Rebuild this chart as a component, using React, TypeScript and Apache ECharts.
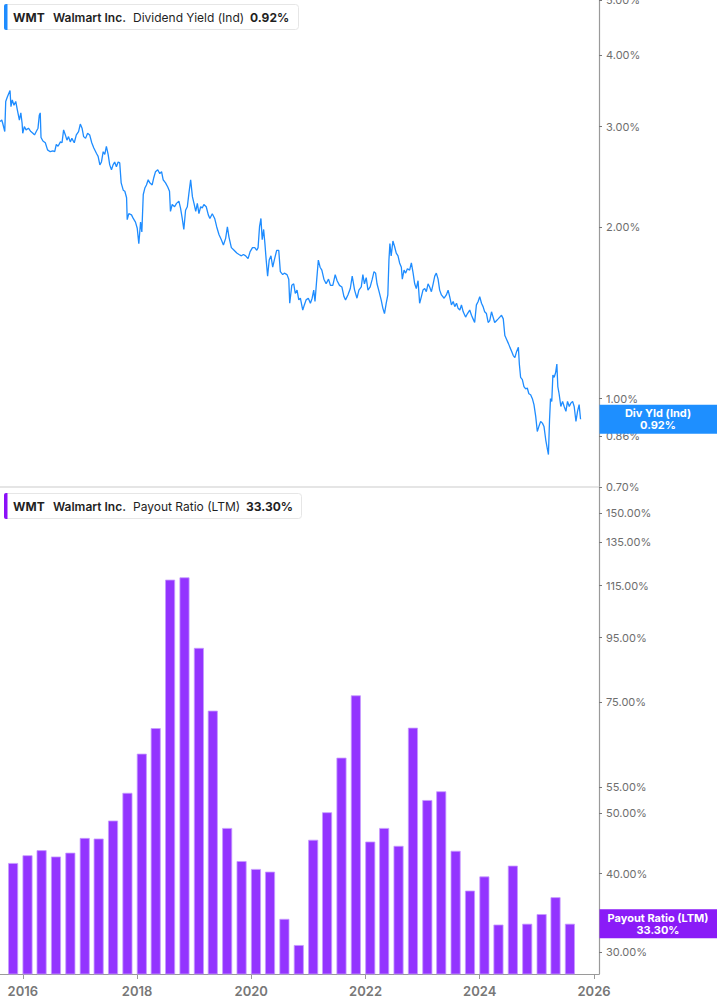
import { useEffect, useRef } from 'react'
import * as echarts from 'echarts'

// Dividend yield (indicated), %
const yieldDates = [
  '2015-09-09', '2015-09-20', '2015-09-26', '2015-10-09', '2015-10-15', '2015-10-25', '2015-11-11', '2015-11-17', '2015-11-25', '2015-12-06', '2015-12-17', '2015-12-27',
  '2016-01-09', '2016-01-18', '2016-01-26', '2016-01-30', '2016-02-09', '2016-02-20', '2016-03-06', '2016-03-21', '2016-04-03', '2016-04-13', '2016-04-24', '2016-05-05', '2016-05-13', '2016-05-19', '2016-05-24', '2016-06-05', '2016-06-20', '2016-07-04', '2016-07-21', '2016-08-07', '2016-08-18', '2016-08-28', '2016-09-08', '2016-09-23', '2016-10-03', '2016-10-13', '2016-10-24', '2016-11-03', '2016-11-13', '2016-11-24', '2016-12-04', '2016-12-19',
  '2017-01-01', '2017-01-15', '2017-01-26', '2017-02-06', '2017-02-16', '2017-02-28', '2017-03-13', '2017-03-26', '2017-04-08', '2017-04-21', '2017-05-08', '2017-05-18', '2017-05-29', '2017-06-08', '2017-06-19', '2017-06-29', '2017-07-09', '2017-07-20', '2017-07-30', '2017-08-10', '2017-08-20', '2017-08-30', '2017-09-10', '2017-09-21', '2017-10-01', '2017-10-10', '2017-10-23', '2017-11-02', '2017-11-13', '2017-11-17', '2017-11-27', '2017-12-14', '2017-12-25',
  '2018-01-08', '2018-01-19', '2018-01-29', '2018-02-09', '2018-02-17', '2018-02-26', '2018-03-08', '2018-03-18', '2018-03-29', '2018-04-08', '2018-04-23', '2018-05-03', '2018-05-14', '2018-05-28', '2018-06-10', '2018-06-21', '2018-07-01', '2018-07-16', '2018-07-30', '2018-08-10', '2018-08-16', '2018-08-27', '2018-09-11', '2018-09-23', '2018-10-08', '2018-10-18', '2018-10-29', '2018-11-08', '2018-11-19', '2018-11-30', '2018-12-10', '2018-12-21',
  '2019-01-01', '2019-01-11', '2019-01-22', '2019-02-01', '2019-02-11', '2019-02-22', '2019-03-04', '2019-03-14', '2019-03-29', '2019-04-11', '2019-04-21', '2019-05-06', '2019-05-21', '2019-06-03', '2019-06-17', '2019-07-02', '2019-07-15', '2019-07-29', '2019-08-09', '2019-08-19', '2019-09-03', '2019-09-20', '2019-10-07', '2019-10-21', '2019-11-05', '2019-11-18', '2019-12-02', '2019-12-17', '2019-12-30',
  '2020-01-14', '2020-01-28', '2020-02-10', '2020-02-18', '2020-02-27', '2020-03-07', '2020-03-15', '2020-03-24', '2020-04-01', '2020-04-09', '2020-04-18', '2020-04-28', '2020-05-09', '2020-05-20', '2020-05-30', '2020-06-14', '2020-06-27', '2020-07-07', '2020-07-22', '2020-08-01', '2020-08-18', '2020-08-29', '2020-09-04', '2020-09-17', '2020-09-29', '2020-10-09', '2020-10-20', '2020-10-31', '2020-11-10', '2020-11-25', '2020-12-05', '2020-12-16', '2020-12-30',
  '2021-01-12', '2021-01-23', '2021-02-02', '2021-02-10', '2021-02-21', '2021-03-03', '2021-03-14', '2021-03-25', '2021-04-07', '2021-04-21', '2021-05-06', '2021-05-18', '2021-06-02', '2021-06-17', '2021-06-29', '2021-07-14', '2021-07-29', '2021-08-11', '2021-08-21', '2021-09-05', '2021-09-20', '2021-10-02', '2021-10-17', '2021-11-01', '2021-11-13', '2021-11-28', '2021-12-08', '2021-12-18', '2021-12-29',
  '2022-01-09', '2022-01-23', '2022-02-05', '2022-02-16', '2022-02-26', '2022-03-07', '2022-03-20', '2022-04-02', '2022-04-13', '2022-04-23', '2022-05-04', '2022-05-14', '2022-05-21', '2022-05-27', '2022-06-04', '2022-06-15', '2022-06-25', '2022-07-06', '2022-07-17', '2022-07-27', '2022-08-07', '2022-08-13', '2022-08-24', '2022-09-03', '2022-09-14', '2022-09-28', '2022-10-09', '2022-10-20', '2022-10-30', '2022-11-09', '2022-11-20', '2022-11-30', '2022-12-11', '2022-12-21',
  '2023-01-01', '2023-01-11', '2023-01-22', '2023-02-01', '2023-02-12', '2023-02-23', '2023-03-05', '2023-03-15', '2023-03-26', '2023-04-05', '2023-04-16', '2023-05-03', '2023-05-17', '2023-05-28', '2023-06-07', '2023-06-18', '2023-06-29', '2023-07-09', '2023-07-20', '2023-07-30', '2023-08-10', '2023-08-20', '2023-08-31', '2023-09-15', '2023-09-27', '2023-10-11', '2023-10-22', '2023-11-01', '2023-11-11', '2023-11-22', '2023-12-03', '2023-12-13', '2023-12-24',
  '2024-01-03', '2024-01-13', '2024-01-24', '2024-02-04', '2024-02-14', '2024-02-25', '2024-03-06', '2024-03-16', '2024-03-27', '2024-04-07', '2024-04-17', '2024-04-28', '2024-05-09', '2024-05-19', '2024-05-30', '2024-06-10', '2024-06-20', '2024-07-01', '2024-07-11', '2024-07-21', '2024-08-01', '2024-08-12', '2024-08-18', '2024-08-26', '2024-09-06', '2024-09-16', '2024-09-27', '2024-10-07', '2024-10-17', '2024-10-28', '2024-11-08', '2024-11-18', '2024-11-29', '2024-12-09', '2024-12-19', '2024-12-30',
  '2025-01-10', '2025-01-20', '2025-01-31', '2025-02-11', '2025-02-17', '2025-02-24', '2025-03-02', '2025-03-10', '2025-03-17', '2025-03-25', '2025-04-03', '2025-04-11', '2025-04-17', '2025-04-25', '2025-05-06', '2025-05-17', '2025-05-27', '2025-06-07', '2025-06-17', '2025-06-28', '2025-07-08', '2025-07-19', '2025-07-29', '2025-08-09', '2025-08-19', '2025-08-29', '2025-09-07'
]

const yieldValues = [
  3.06, 3.08, 3.04, 2.94, 3.32, 3.38, 3.47, 3.25, 3.34, 3.27, 3.32, 3.21,
  3.08, 3.17, 3.04, 2.92, 3.0, 2.96, 2.98, 2.94, 2.92, 2.9, 2.94, 2.98, 3.14, 3.17, 2.87, 2.83, 2.81, 2.73, 2.71, 2.72, 2.71, 2.79, 2.77, 2.82, 2.81, 2.96, 2.9, 2.84, 2.88, 2.82, 2.86, 2.81,
  2.9, 2.94, 3.03, 2.98, 2.88, 2.86, 2.92, 2.9, 2.81, 2.75, 2.69, 2.66, 2.57, 2.6, 2.71, 2.68, 2.77, 2.68, 2.57, 2.52, 2.57, 2.6, 2.55, 2.6, 2.59, 2.39, 2.32, 2.31, 2.25, 2.06, 2.11, 2.1, 2.07,
  2.04, 1.99, 1.87, 2.04, 1.96, 2.28, 2.34, 2.37, 2.42, 2.39, 2.37, 2.44, 2.5, 2.52, 2.48, 2.5, 2.42, 2.39, 2.35, 2.31, 2.13, 2.19, 2.17, 2.2, 2.22, 2.16, 2.07, 1.98, 2.14, 2.17, 2.29, 2.42,
  2.26, 2.2, 2.13, 2.2, 2.11, 2.17, 2.16, 2.19, 2.17, 2.1, 2.07, 2.11, 2.07, 2.0, 1.94, 1.9, 1.86, 1.91, 2.0, 1.92, 1.84, 1.82, 1.8, 1.79, 1.78, 1.79, 1.78, 1.76, 1.81,
  1.84, 1.84, 1.82, 1.84, 2.0, 2.07, 1.9, 1.98, 1.87, 1.75, 1.64, 1.75, 1.78, 1.7, 1.75, 1.82, 1.82, 1.67, 1.65, 1.66, 1.65, 1.62, 1.47, 1.58, 1.59, 1.53, 1.55, 1.49, 1.5, 1.43, 1.46, 1.49, 1.5,
  1.47, 1.5, 1.55, 1.48, 1.62, 1.75, 1.7, 1.68, 1.62, 1.59, 1.62, 1.58, 1.58, 1.65, 1.61, 1.58, 1.57, 1.51, 1.49, 1.52, 1.56, 1.64, 1.55, 1.5, 1.55, 1.57, 1.65, 1.59, 1.63,
  1.55, 1.57, 1.62, 1.67, 1.66, 1.59, 1.54, 1.49, 1.44, 1.41, 1.47, 1.52, 1.75, 1.87, 1.78, 1.89, 1.85, 1.8, 1.78, 1.73, 1.7, 1.62, 1.68, 1.66, 1.69, 1.68, 1.73, 1.66, 1.59, 1.56, 1.61, 1.47, 1.51, 1.55,
  1.56, 1.54, 1.59, 1.57, 1.54, 1.59, 1.64, 1.66, 1.62, 1.55, 1.52, 1.5, 1.52, 1.55, 1.51, 1.46, 1.48, 1.45, 1.47, 1.44, 1.43, 1.46, 1.42, 1.39, 1.41, 1.43, 1.4, 1.38, 1.36, 1.46, 1.48, 1.51, 1.47,
  1.45, 1.42, 1.41, 1.36, 1.37, 1.42, 1.39, 1.36, 1.37, 1.38, 1.39, 1.4, 1.38, 1.29, 1.27, 1.25, 1.23, 1.21, 1.19, 1.18, 1.21, 1.23, 1.15, 1.09, 1.08, 1.05, 1.04, 1.044, 1.02, 1.016, 1.0, 0.976, 0.931, 0.876, 0.894, 0.912,
  0.906, 0.894, 0.847, 0.814, 0.798, 0.918, 1.0, 0.989, 1.1, 1.09, 1.11, 1.15, 1.05, 1.02, 0.969, 0.989, 0.969, 0.95, 0.989, 0.969, 0.982, 0.989, 0.969, 0.912, 0.95, 0.976, 0.92
]

// Payout ratio (LTM), % — one bar per fiscal quarter end
const payoutDates = [
  '2015-10-31', '2016-01-31', '2016-04-30', '2016-07-31', '2016-10-31', '2017-01-31', '2017-04-30', '2017-07-31',
  '2017-10-31', '2018-01-31', '2018-04-30', '2018-07-31', '2018-10-31', '2019-01-31', '2019-04-30', '2019-07-31',
  '2019-10-31', '2020-01-31', '2020-04-30', '2020-07-31', '2020-10-31', '2021-01-31', '2021-04-30', '2021-07-31',
  '2021-10-31', '2022-01-31', '2022-04-30', '2022-07-31', '2022-10-31', '2023-01-31', '2023-04-30', '2023-07-31',
  '2023-10-31', '2024-01-31', '2024-04-30', '2024-07-31', '2024-10-31', '2025-01-31', '2025-04-30', '2025-07-31'
]
const payoutValues = [
  41.6, 42.8, 43.6, 42.6, 43.2, 45.6, 45.5, 48.6,
  53.8, 62.1, 68.2, 117.5, 118.5, 91.5, 72.7, 47.3,
  41.9, 40.7, 40.3, 33.9, 30.8, 45.3, 50.1, 61.2,
  76.9, 45.0, 47.3, 44.3, 68.3, 52.4, 54.1, 43.5,
  37.6, 39.6, 33.2, 41.2, 33.3, 34.5, 36.7, 33.3
]

const yieldTicks = [0.7, 0.86, 1, 2, 3, 4, 5]
const payoutTicks = [30, 40, 50, 55, 75, 95, 115, 135, 150]
const yearTicks = ['2016-01-01', '2018-01-01', '2020-01-01', '2022-01-01', '2024-01-01', '2026-01-01']

const X_MIN = '2015-09-09'
const X_MAX = '2026-01-01'
const BLUE = '#1E8CFF'
const PURPLE = '#9334FF'
const GRID_RIGHT = 118

export default function App() {
  const chartRef = useRef<HTMLDivElement | null>(null)

  useEffect(() => {
    if (!chartRef.current) return
    const chart = echarts.init(chartRef.current, undefined, { renderer: 'svg' })

    const pct = (v: number) => v.toFixed(2) + '%'
    const axisGray = '#9a9a9a'

    const option: echarts.EChartsOption = {
      animation: false,
      backgroundColor: '#ffffff',
      textStyle: { fontFamily: 'Inter, sans-serif' },
      grid: [
        { left: 0, top: 0, right: GRID_RIGHT, height: 487, outerBoundsMode: 'none' } as any,
        { left: 0, top: 487, right: GRID_RIGHT, bottom: 31, outerBoundsMode: 'none' } as any
      ],
      xAxis: [
        {
          type: 'time', gridIndex: 0, min: X_MIN, max: X_MAX,
          axisLine: { show: true, lineStyle: { color: '#dddddd', width: 1.5 } },
          axisTick: { show: false }, axisLabel: { show: false }, splitLine: { show: false }
        },
        {
          type: 'time', gridIndex: 1, min: X_MIN, max: X_MAX,
          axisLine: { show: true, lineStyle: { color: axisGray, width: 1.2 } },
          axisTick: { show: true, length: 5, customValues: yearTicks, lineStyle: { color: axisGray } } as any,
          axisLabel: {
            customValues: yearTicks, formatter: '{yyyy}', color: '#777777',
            fontSize: 13, fontWeight: 600, margin: 10
          } as any,
          splitLine: { show: false }
        }
      ],
      yAxis: [
        {
          type: 'log', gridIndex: 0, position: 'right', min: 0.7, max: 5,
          axisLine: { show: true, lineStyle: { color: axisGray, width: 1.2 } },
          axisTick: { show: true, length: 3, customValues: yieldTicks, lineStyle: { color: '#777' } } as any,
          axisLabel: { customValues: yieldTicks, formatter: pct, color: '#6e6e6e', fontSize: 11, margin: 7 } as any,
          splitLine: { show: false }
        },
        {
          type: 'log', gridIndex: 1, position: 'right', min: 27.7, max: 165,
          axisLine: { show: true, lineStyle: { color: axisGray, width: 1.2 } },
          axisTick: { show: true, length: 3, customValues: payoutTicks, lineStyle: { color: '#777' } } as any,
          axisLabel: { customValues: payoutTicks, formatter: pct, color: '#6e6e6e', fontSize: 11, margin: 7 } as any,
          splitLine: { show: false }
        }
      ],
      series: [
        {
          type: 'line', xAxisIndex: 0, yAxisIndex: 0,
          data: yieldDates.map((d, i) => [d, yieldValues[i]]),
          showSymbol: false, symbol: 'none',
          lineStyle: { color: BLUE, width: 1.3 },
          clip: true
        },
        {
          type: 'bar', xAxisIndex: 1, yAxisIndex: 1,
          data: payoutDates.map((d, i) => [d, payoutValues[i]]),
          barWidth: 10,
          itemStyle: { color: PURPLE, borderColor: '#C79BFF', borderWidth: 0.8 },
          clip: true
        }
      ]
    }

    chart.setOption(option)

    const lastYield = yieldValues[yieldValues.length - 1]
    const lastPayout = payoutValues[payoutValues.length - 1]
    const yTop = chart.convertToPixel({ yAxisIndex: 0 }, lastYield) as number
    const yBot = chart.convertToPixel({ yAxisIndex: 1 }, lastPayout) as number
    const axisX = 717 - GRID_RIGHT

    const txt = (x: number, y: number, text: string, weight: number, fill = '#1f1f1f', size = 12, align = 'left') => ({
      type: 'text', x, y, silent: true, z: 20,
      style: {
        text, fill, align, textAlign: align, verticalAlign: 'middle', textVerticalAlign: 'middle',
        font: `${weight} ${size}px Inter, sans-serif`
      }
    })

    const legendBox = (top: number, width: number, accent: string, label: string, value: string, valueX: number) => ({
      type: 'group', z: 20,
      children: [
        { type: 'rect', shape: { x: 4.5, y: top + 0.5, width, height: 25, r: 3 }, style: { fill: '#fff', stroke: '#e6e6e6', lineWidth: 1 }, z: 20 },
        { type: 'rect', shape: { x: 4, y: top, width: 3.5, height: 26, r: [2, 0, 0, 2] }, style: { fill: accent }, z: 21 },
        txt(13, top + 13, 'WMT', 700),
        txt(53, top + 13, 'Walmart Inc.', 600),
        txt(133, top + 13, label, 400),
        txt(valueX, top + 13, value, 700)
      ]
    })

    const badge = (yc: number, fill: string, l1: string, l2: string) => ({
      type: 'group', z: 30,
      children: [
        { type: 'rect', shape: { x: axisX + 0.5, y: yc - 14.5, width: 717 - axisX, height: 29 }, style: { fill }, z: 30 },
        { ...txt(658, yc - 6, l1, 700, '#ffffff', 11, 'center'), z: 31 },
        { ...txt(658, yc + 6, l2, 700, '#ffffff', 11, 'center'), z: 31 }
      ]
    })

    chart.setOption({
      graphic: [
        legendBox(4, 294, BLUE, 'Dividend Yield (Ind)', pct(lastYield), 250),
        legendBox(493, 297, '#8B10F8', 'Payout Ratio (LTM)', pct(lastPayout), 246),
        badge(yTop, '#1E8FFF', 'Div Yld (Ind)', pct(lastYield)),
        badge(yBot, '#8A1BF7', 'Payout Ratio (LTM)', pct(lastPayout))
      ]
    } as any)

    return () => {
      chart.dispose()
    }
  }, [])

  return (
    <div
      ref={chartRef}
      style={{ position: 'absolute', left: 0, top: 0, width: 717, height: 1005 }}
    />
  )
}
